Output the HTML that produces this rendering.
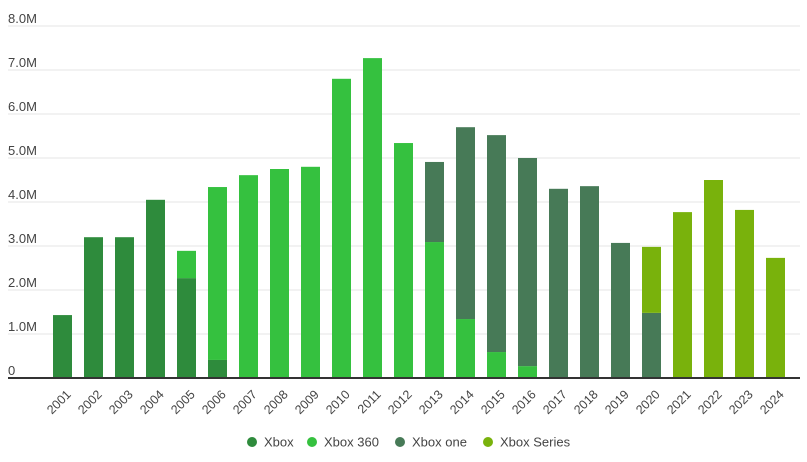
<!DOCTYPE html>
<html><head><meta charset="utf-8"><style>
body{margin:0;background:#fff;font-family:"Liberation Sans",sans-serif}
svg text{font-family:"Liberation Sans",sans-serif}
</style></head><body>
<svg id="c" width="807" height="457"></svg>
<script>
const years=["2001","2002","2003","2004","2005","2006","2007","2008","2009","2010","2011","2012","2013","2014","2015","2016","2017","2018","2019","2020","2021","2022","2023","2024"];
const xbox=[1.43,3.2,3.2,4.05,2.27,0.41,0,0,0,0,0,0,0,0,0,0,0,0,0,0,0,0,0,0];
const xbox360=[0,0,0,0,0.62,3.93,4.61,4.75,4.8,6.8,7.27,5.34,3.09,1.34,0.59,0.27,0,0,0,0,0,0,0,0];
const xboxOne=[0,0,0,0,0,0,0,0,0,0,0,0,1.82,4.36,4.93,4.73,4.3,4.36,3.07,1.48,0,0,0,0];
const xboxSeries=[0,0,0,0,0,0,0,0,0,0,0,0,0,0,0,0,0,0,0,1.5,3.77,4.5,3.82,2.73];
const yTicks=[0,1,2,3,4,5,6,7,8];
const yTickLabels=["0","1.0M","2.0M","3.0M","4.0M","5.0M","6.0M","7.0M","8.0M"];
const seriesNames=["Xbox","Xbox 360","Xbox one","Xbox Series"];
const colors=["#2e8b3c","#35c13f","#477a57","#79b20c"];
const svg=document.getElementById('c');const NS="http://www.w3.org/2000/svg";
function el(t,a,p){const e=document.createElementNS(NS,t);for(const k in a)e.setAttribute(k,a[k]);(p||svg).appendChild(e);return e;}
const y=v=>378-v*44; const x=i=>62.5+i*31;
yTicks.forEach((t,i)=>{
 if(t>0){const g=el('line',{x1:8,x2:800,y1:y(t),y2:y(t),stroke:'#e6e6e6','stroke-width':1});
 
 }
 const tx=el('text',{x:8,y:y(t)-3,'font-size':13,fill:'#444'});tx.textContent=yTickLabels[i];
 
 
});
const data=[xbox,xbox360,xboxOne,xboxSeries];
years.forEach((yr,i)=>{
 let base=0;
 data.forEach((s,k)=>{const v=s[i];if(v>0){
  const r=el('rect',{x:x(i)-9.5,y:y(base+v),width:19,height:v*44,fill:colors[k]});
  
  
  base+=v;}});
 const t=el('text',{x:x(i)+3,y:389,'font-size':12.5,fill:'#444','text-anchor':'end',transform:`rotate(-45 ${x(i)+3} 389)`,dy:'0.7em'});
 t.textContent=yr;
 
 
});
const ax=el('line',{x1:8,x2:800,y1:378,y2:378,stroke:'#333','stroke-width':2});


const lx=[252,312,400,488];
seriesNames.forEach((n,k)=>{
 const g=el('g',{});
 
 
 el('circle',{cx:lx[k],cy:442,r:5,fill:colors[k]},g);
 const t=el('text',{x:lx[k]+12,y:446.5,'font-size':13,fill:'#444'},g);t.textContent=n;
});
</script>
</body></html>
